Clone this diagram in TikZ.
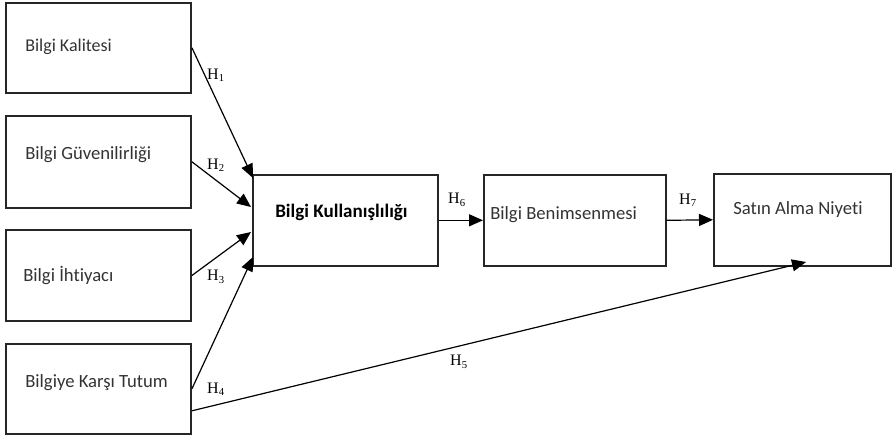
\documentclass[tikz,border=0pt]{standalone}
\usepackage{fontspec}
\setmainfont[Ligatures=NoCommon]{Carlito}
\newfontfamily\hfont{Liberation Serif}
\usetikzlibrary{arrows.meta,calc}
\begin{document}
\begin{tikzpicture}[x=0.75pt,y=-0.75pt,
  box/.style={draw=black!85,line width=1.2pt,inner sep=0pt,anchor=north west},
  lbl/.style={anchor=west,inner sep=0pt,font=\fontsize{14}{16}\selectfont,text=black!80},
  hyp/.style={inner sep=0pt,font=\hfont\fontsize{12}{14}\selectfont},
  conn/.style={line width=0.9pt,-{Triangle[length=10.5pt,width=9pt]}}]
\useasboundingbox (0,0) rectangle (892,440);
% boxes
\node[box,minimum width=139pt,minimum height=67.5pt] (b1) at (5,2) {};
\node[box,minimum width=139pt,minimum height=69pt] (b2) at (5,115) {};
\node[box,minimum width=139pt,minimum height=68.5pt] (b3) at (5,229) {};
\node[box,minimum width=139pt,minimum height=67.5pt] (b4) at (5,343) {};
\node[box,minimum width=138.75pt,minimum height=68.25pt] (bk) at (252,174) {};
\node[box,minimum width=136.5pt,minimum height=68.25pt] (bb) at (483,174) {};
\node[box,minimum width=132.75pt,minimum height=69pt] (sa) at (713,173) {};
% texts
\node[lbl,font=\fontsize{13.5}{16}\selectfont] (t1) at (25,47) {Bilgi Kalitesi};
\node[lbl] (t2) at (25,155) {Bilgi Güvenilirliği};
\node[lbl] (t3) at (23,275) {Bilgi İhtiyacı};
\node[lbl] (t4) at (25,383) {Bilgiye Karşı Tutum};
\node[lbl,font=\bfseries\fontsize{14.3}{16}\selectfont,text=black] (tk) at (275,212) {Bilgi Kullanışlılığı};
\node[lbl] (tb) at (490,215) {Bilgi Benimsenmesi};
\node[lbl] (ts) at (733,210) {Satın Alma Niyeti};
% target coordinates
\coordinate (e1) at (253,178);
\coordinate (e2) at (251,207);
\coordinate (e3) at (251,232);
\coordinate (e4) at (253,257);
\coordinate (s5) at ($(b4.east)+(0,22)$);
\coordinate (e5) at (806,262);
% connectors
\draw[conn] (b1.east) -- (e1);
\draw[conn] (b2.east) -- (e2);
\draw[conn] (b3.east) -- (e3);
\draw[conn] (b4.east) -- (e4);
\draw[conn] (s5) -- (e5);
\draw[conn] (bk.east) -- (bb.west);
\draw[conn] (bb.east) -- (sa.west);
% labels
\node[hyp] (h1) at (216,75) {H\textsubscript{1}};
\node[hyp] (h2) at (216,165) {H\textsubscript{2}};
\node[hyp] (h3) at (216,277) {H\textsubscript{3}};
\node[hyp] (h4) at (216,389) {H\textsubscript{4}};
\node[hyp] (h5) at (459,362) {H\textsubscript{5}};
\node[hyp] (h6) at (457,200) {H\textsubscript{6}};
\node[hyp] (h7) at (688,200) {H\textsubscript{7}};
\end{tikzpicture}
\end{document}
